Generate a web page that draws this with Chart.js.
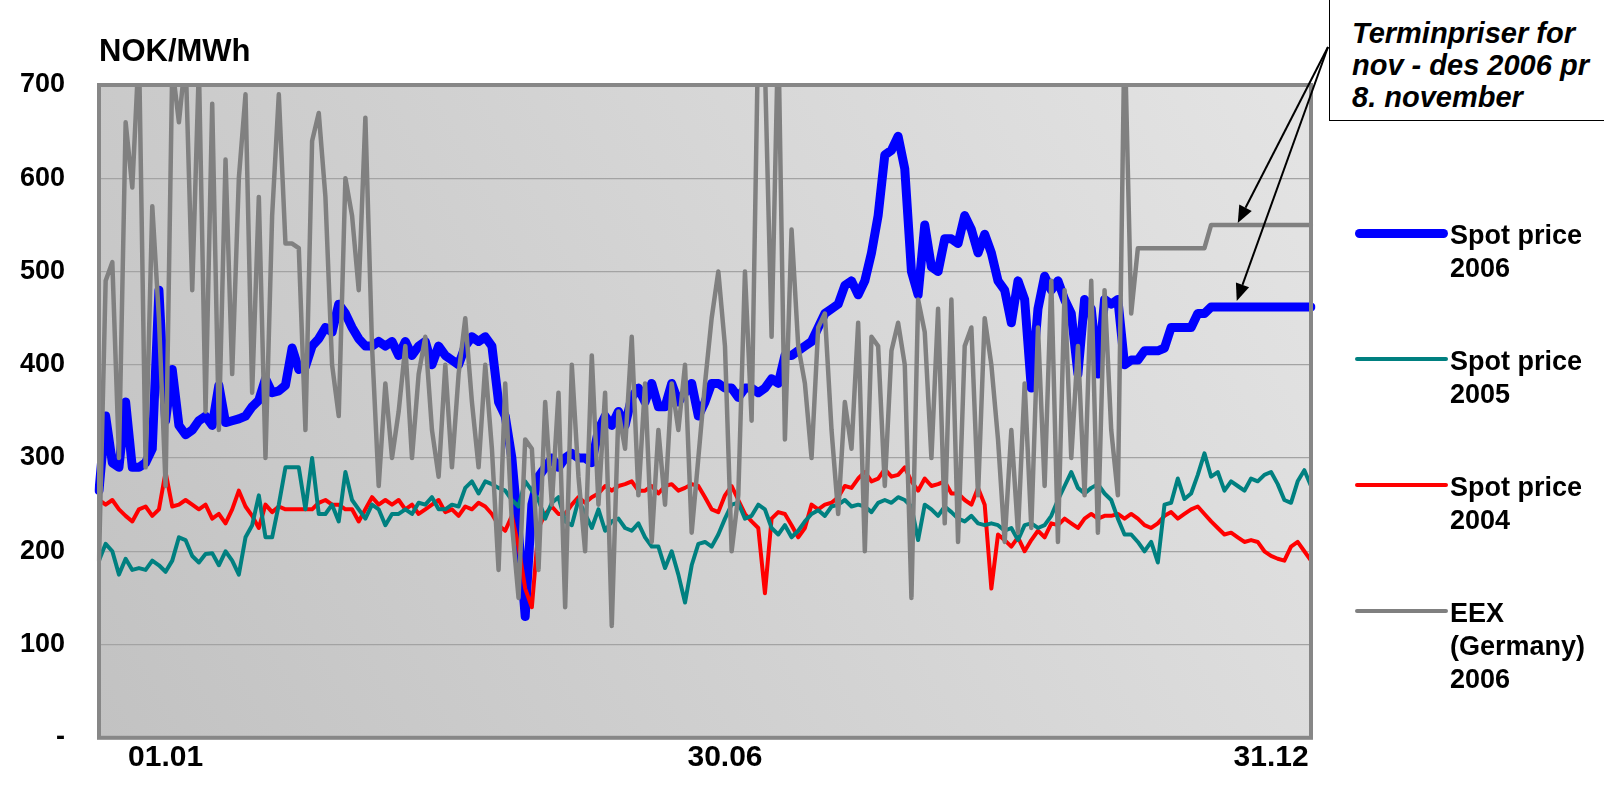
<!DOCTYPE html>
<html>
<head>
<meta charset="utf-8">
<script src="https://cdn.jsdelivr.net/npm/chart.js@4.4.1/dist/chart.umd.min.js"></script>
<style>
html,body{margin:0;padding:0;background:#fff;}
#wrap{position:relative;width:1604px;height:788px;overflow:hidden;font-family:"Liberation Sans",Arial,Helvetica,sans-serif;}
#c{position:absolute;left:0;top:0;}
.txt{position:absolute;font-weight:bold;font-size:27px;color:#000;white-space:nowrap;}
#unit{left:99px;top:35px;line-height:31px;font-size:31px;}
#note{position:absolute;left:1329px;top:-3px;width:300px;height:124px;background:#fff;border:1.5px solid #000;box-sizing:border-box;}
#noteText{left:22px;top:19px;line-height:32px;font-size:29px;font-style:italic;}
.sw{position:absolute;left:1355px;width:93px;border-radius:5px;}
</style>
</head>
<body>
<div id="wrap">
  <canvas id="c" width="1604" height="788"></canvas>
  <div class="txt" id="unit">NOK/MWh</div>
  <div id="note"><div class="txt" id="noteText">Terminpriser for<br>nov - des 2006 pr<br>8. november</div></div>
  <div id="legend"></div>
</div>
<script>
// ---------- DATA (one point per ~2 days through the year) ----------
const tickText = ['01.01', '30.06', '31.12'];
const tickAt   = [10, 94, 176];
const yTicks   = [0, 100, 200, 300, 400, 500, 600, 700];

const spot2006 = [
  265,345,295,290,360,290,290,295,310,480,
  340,395,335,325,330,340,345,335,378,338,
  340,342,345,355,362,385,370,372,378,418,
  395,398,420,428,440,435,465,455,440,428,
  420,420,425,420,425,410,425,410,420,425,
  400,420,410,405,400,420,430,425,430,420,
  360,345,300,220,130,250,280,290,300,290,
  300,305,300,300,295,330,345,335,350,335,
  365,375,360,380,355,355,380,360,370,380,
  345,360,380,380,375,375,365,375,375,370,
  375,385,380,410,410,415,420,425,440,455,
  460,465,485,490,475,490,520,560,625,630,
  645,610,500,475,550,505,500,535,535,530,
  560,545,520,540,520,490,480,445,490,470,
  375,460,495,480,490,470,455,390,470,460,
  390,470,465,470,400,405,405,415,415,415,
  418,440,440,440,440,455,455,462,462,462,
  462,462,462,462,462,462,462,462,462,462,
  462,462,462
];

const spot2005 = [
  190,208,200,175,192,180,182,180,190,185,
  178,190,215,212,195,188,197,198,185,200,
  190,175,215,228,260,215,215,250,290,290,
  290,245,300,240,240,250,232,285,255,245,
  235,250,245,228,240,240,245,240,252,250,
  258,245,245,250,248,268,275,262,275,272,
  268,265,255,248,275,265,255,235,252,258,
  232,228,255,240,225,245,222,232,235,225,
  222,230,215,205,205,182,200,175,145,185,
  208,210,205,218,235,250,252,235,238,250,
  245,225,218,228,215,222,232,240,244,238,
  248,250,255,248,250,248,242,252,255,252,
  258,255,248,212,250,245,238,248,242,235,
  232,238,230,228,230,228,222,225,212,228,
  230,225,228,238,255,270,285,268,262,268,
  272,262,255,235,218,218,210,200,210,188,
  250,252,278,256,262,282,305,280,285,265,
  275,270,265,278,275,282,285,272,255,252,
  275,287,270
];

const spot2004 = [
  255,250,255,245,238,232,245,248,238,245,
  285,248,250,255,250,245,250,235,240,230,
  245,265,248,238,225,250,242,248,245,245,
  245,245,245,252,255,250,250,245,245,232,
  245,258,250,255,250,255,245,250,240,245,
  250,255,242,245,238,248,245,252,248,240,
  228,222,238,205,160,140,225,240,248,240,
  240,250,258,252,258,262,270,265,270,272,
  275,265,265,270,262,270,272,265,268,272,
  270,258,245,242,260,270,255,240,232,225,
  155,235,242,240,228,215,225,250,245,250,
  252,258,270,268,278,285,275,278,288,280,
  282,290,275,265,278,270,272,275,262,262,
  255,250,268,250,160,218,212,205,215,200,
  212,222,215,230,228,235,230,225,235,240,
  235,238,238,240,235,240,235,228,225,230,
  238,242,235,240,245,248,240,232,225,218,
  220,215,210,212,210,200,195,192,190,205,
  210,200,190
];

const eex2006 = [
  190,490,510,300,660,590,740,290,570,450,
  270,720,660,730,480,720,350,680,330,620,
  390,600,690,370,580,300,560,690,530,530,
  525,330,640,670,580,400,345,600,560,480,
  665,420,270,380,300,350,420,300,390,430,
  330,280,400,290,390,450,360,290,400,310,
  180,380,230,150,320,310,180,360,250,370,
  140,400,280,200,410,250,370,120,350,310,
  430,260,380,210,330,250,380,330,400,220,
  300,380,450,500,420,200,260,500,340,760,
  720,430,760,320,545,420,380,300,440,455,
  330,240,360,310,445,200,430,420,270,415,
  445,400,150,470,435,300,460,230,470,210,
  420,440,260,450,400,320,210,330,220,380,
  225,440,270,490,210,480,300,420,260,490,
  220,480,330,260,760,455,525,525,525,525,
  525,525,525,525,525,525,525,550,550,550,
  550,550,550,550,550,550,550,550,550,550,
  550,550,550
];

const seriesLabels = [['Spot price','2006'], ['Spot price','2005'], ['Spot price','2004'], ['EEX','(Germany)','2006']];
const seriesColors = ['#0000FF', '#008080', '#FF0000', '#808080'];
const seriesWidths = [9, 4, 4, 4.5];

// ---------- BUILD ----------
const xLabels = spot2006.map(() => '');
tickAt.forEach((idx, k) => { xLabels[idx] = tickText[k]; });

const FONT = '"Liberation Sans", Arial, Helvetica, sans-serif';

const bgPlugin = {
  id: 'plotBg',
  beforeDatasetsDraw(chart) {
    const {ctx, chartArea: a} = chart;
    ctx.save();
    const g = ctx.createLinearGradient(a.left, a.bottom, a.right, a.top);
    g.addColorStop(0, '#c2c2c2');
    g.addColorStop(1, '#e4e4e4');
    ctx.fillStyle = g;
    ctx.globalCompositeOperation = 'destination-over';
    ctx.fillRect(a.left, a.top, a.right - a.left, a.bottom - a.top);
    ctx.restore();
  },
  afterDatasetsDraw(chart) {
    const {ctx, chartArea: a} = chart;
    ctx.save();
    ctx.strokeStyle = '#878787';
    ctx.lineWidth = 4;
    ctx.strokeRect(a.left, a.top, a.right - a.left, a.bottom - a.top);
    ctx.restore();
  },
  afterDraw(chart) {
    const {ctx} = chart;
    const xs = chart.scales.x, ys = chart.scales.y;
    const idx = 171;
    const start = {x: 1328, y: 47};
    const tips = [
      {x: xs.getPixelForValue(idx), y: ys.getPixelForValue(eex2006[idx]) - 2},
      {x: xs.getPixelForValue(idx) - 1, y: ys.getPixelForValue(spot2006[idx]) - 6}
    ];
    ctx.save();
    ctx.strokeStyle = '#000';
    ctx.fillStyle = '#000';
    ctx.lineWidth = 2;
    tips.forEach(t => {
      const ang = Math.atan2(t.y - start.y, t.x - start.x);
      const L = 17, W = 7;
      const bx = t.x - L * Math.cos(ang), by = t.y - L * Math.sin(ang);
      ctx.beginPath();
      ctx.moveTo(start.x, start.y);
      ctx.lineTo(bx, by);
      ctx.stroke();
      ctx.beginPath();
      ctx.moveTo(t.x, t.y);
      ctx.lineTo(bx + W * Math.sin(ang), by - W * Math.cos(ang));
      ctx.lineTo(bx - W * Math.sin(ang), by + W * Math.cos(ang));
      ctx.closePath();
      ctx.fill();
    });
    ctx.restore();
  }
};

const allSeries = [spot2006, spot2005, spot2004, eex2006];
const drawOrder = [4, 2, 3, 1];

const chart = new Chart(document.getElementById('c'), {
  type: 'line',
  data: {
    labels: xLabels,
    datasets: allSeries.map((d, k) => ({
      label: seriesLabels[k].join(' '),
      data: d,
      borderColor: seriesColors[k],
      backgroundColor: seriesColors[k],
      borderWidth: seriesWidths[k],
      pointRadius: 0,
      tension: 0,
      fill: false,
      borderJoinStyle: 'round',
      borderCapStyle: 'round',
      order: drawOrder[k]
    }))
  },
  options: {
    responsive: false,
    animation: false,
    devicePixelRatio: 1,
    layout: {padding: {left: 0, top: 85, right: 293, bottom: 0}},
    plugins: {legend: {display: false}, tooltip: {enabled: false}, title: {display: false}},
    scales: {
      x: {
        type: 'category',
        offset: false,
        grid: {display: false, drawTicks: false},
        border: {display: false},
        ticks: {
          autoSkip: false, maxRotation: 0, minRotation: 0, padding: 2,
          color: '#000', font: {family: FONT, size: 30, weight: 'bold'}
        },
        afterFit(s) { s.height = 30; }
      },
      y: {
        min: 0, max: 700,
        afterBuildTicks(s) { s.ticks = yTicks.map(v => ({value: v})); },
        grid: {
          drawTicks: false,
          color: c => (c.tick && (c.tick.value === 0 || c.tick.value === 700)) ? 'rgba(0,0,0,0)' : '#a3a3a3',
          lineWidth: 1.2
        },
        border: {display: false},
        ticks: {
          padding: 34, color: '#000',
          font: {family: FONT, size: 27, weight: 'bold'},
          callback: v => v === 0 ? '-' : String(v)
        },
        afterFit(s) { s.width = 99; }
      }
    }
  },
  plugins: [bgPlugin]
});

// ---------- LEGEND (HTML text, built from the datasets) ----------
const legend = document.getElementById('legend');
chart.data.datasets.forEach((ds, k) => {
  const sw = document.createElement('div');
  sw.className = 'sw';
  sw.style.top = (233 + 126 * k - ds.borderWidth / 2) + 'px';
  sw.style.height = ds.borderWidth + 'px';
  sw.style.background = ds.borderColor;
  legend.appendChild(sw);
  const t = document.createElement('div');
  t.className = 'txt';
  t.style.left = '1450px';
  t.style.top = (219 + 126 * k) + 'px';
  t.style.lineHeight = '33px';
  t.innerHTML = seriesLabels[k].join('<br>');
  legend.appendChild(t);
});
</script>
</body>
</html>
